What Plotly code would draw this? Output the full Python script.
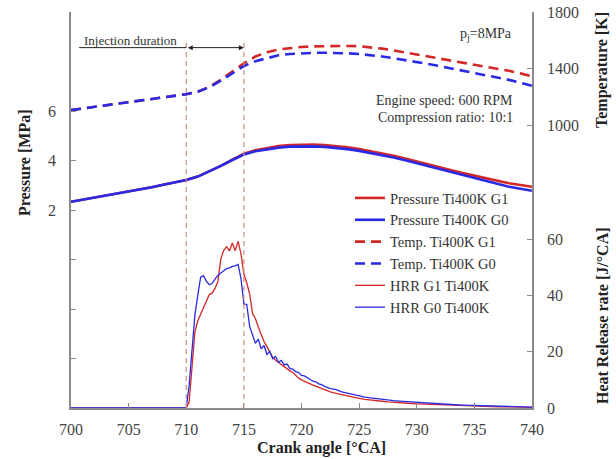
import plotly.graph_objects as go

# ---------------- data ----------------
ca = list(range(700, 741))
pressure_g1 = [2.33, 2.41, 2.49, 2.57, 2.66, 2.74, 2.83, 2.92, 3.02, 3.11, 3.21,
               3.35, 3.55, 3.78, 4.03, 4.27, 4.41, 4.51, 4.58, 4.62, 4.64,
               4.64, 4.62, 4.58, 4.53, 4.46, 4.38, 4.29, 4.19, 4.08, 3.97,
               3.85, 3.73, 3.61, 3.49, 3.38, 3.27, 3.17, 3.08, 3.01, 2.94]
pressure_g0 = [2.33, 2.41, 2.49, 2.57, 2.66, 2.74, 2.83, 2.92, 3.02, 3.11, 3.21,
               3.35, 3.55, 3.78, 4.02, 4.24, 4.37, 4.46, 4.52, 4.56, 4.57,
               4.57, 4.55, 4.51, 4.46, 4.39, 4.31, 4.22, 4.12, 4.01, 3.89,
               3.77, 3.64, 3.51, 3.39, 3.27, 3.15, 3.04, 2.94, 2.86, 2.78]
temp_g1 = [1106, 1117, 1128, 1139, 1150, 1161, 1172, 1184, 1195, 1207, 1219,
           1236, 1271, 1321, 1378, 1437, 1485, 1516, 1535, 1546, 1553,
           1557, 1559, 1560, 1560, 1558, 1551, 1541, 1528, 1514, 1500,
           1486, 1472, 1458, 1444, 1430, 1415, 1400, 1384, 1366, 1344]
temp_g0 = [1106, 1117, 1128, 1139, 1150, 1161, 1172, 1184, 1195, 1207, 1219,
           1236, 1268, 1314, 1366, 1418, 1452, 1475, 1494, 1503, 1508,
           1511, 1512, 1511, 1508, 1503, 1495, 1485, 1473, 1461, 1448,
           1432, 1417, 1401, 1386, 1370, 1354, 1338, 1320, 1300, 1278]

hrr_ca = [700, 709.75,
          710.0, 710.25, 710.5, 710.75, 711.0, 711.25, 711.5, 711.75,
          712.0, 712.25, 712.5, 712.75, 713.0, 713.25, 713.5, 713.75,
          714.0, 714.25, 714.5, 714.75, 715.0, 715.25, 715.5, 715.75,
          716.0, 716.25, 716.5, 716.75, 717.0, 717.25, 717.5, 717.75,
          718.0, 718.25, 718.5, 718.75, 719.0, 719.25, 719.5, 719.75,
          720.0, 720.25, 720.5, 720.75, 721.0, 721.25, 721.5, 721.75, 722.0,
          722.5, 723.0, 723.5, 724.0, 724.5, 725.0, 725.5, 726.0, 726.5,
          727.0, 727.5, 728.0, 728.5, 729.0, 729.5, 730.0, 731.0, 732.0,
          733.0, 734.0, 735.0, 736.0, 737.0, 738.0, 739.0, 740.0]
hrr_g1 = [0, 0,
          0, 2, 15, 27, 31, 33.5, 35.4, 38.5,
          40.3, 40.8, 42.5, 45, 53, 56, 57.3, 55.8,
          58.6, 55.9, 59.2, 54.8, 47.5, 44.5, 40.5, 33.6,
          31.8, 28.8, 26.0, 23.6, 21.8, 19.8, 18.0, 17.0,
          16.2, 15.3, 14.6, 13.9, 13.2, 12.6, 11.6, 10.6,
          10.0, 9.6, 9.1, 8.6, 8.1, 7.7, 7.3, 6.9, 6.5,
          5.7, 5.2, 4.7, 4.2, 3.8, 3.4, 3.1, 2.8, 2.6,
          2.4, 2.2, 2.0, 1.85, 1.7, 1.6, 1.5, 1.3, 1.1,
          0.95, 0.8, 0.65, 0.55, 0.45, 0.35, 0.3, 0.25]
hrr_g0 = [0, 0,
          0, 8, 22, 33, 40, 46.5, 47, 45,
          43.8, 44.3, 45.8, 47.2, 48, 48.8, 49.5, 49.8,
          50.3, 50.5, 51, 46, 37, 36.8, 29, 26,
          23, 24.5, 21, 22.2, 19, 20.1, 17.5, 18.3,
          16.2, 16.9, 15.3, 15.6, 14, 13.8, 12.9, 12.6,
          11.6, 11.4, 10.8, 10.3, 9.5, 9.3, 8.6, 8.3, 7.7,
          6.9, 6.5, 5.7, 5.2, 4.7, 4.3, 3.9, 3.6, 3.3,
          3.1, 2.8, 2.6, 2.45, 2.3, 2.15, 2.0, 1.7, 1.45,
          1.25, 1.05, 0.9, 0.75, 0.6, 0.5, 0.4, 0.3]

injection_start = 710
injection_end = 715

x_ticks = [700, 705, 710, 715, 720, 725, 730, 735, 740]
p_ticks = [2, 4, 6]
p_minor_ticks = [-4, -2, 0, 10]
t_ticks = [1000, 1400, 1800]
h_ticks = [0, 20, 40, 60]

# ---------------- styling ----------------
RED = "#D42828"
BLUE = "#2A2AE6"
FONT = "Liberation Serif"
AX = "#8a8a8a"
TXT = "#333333"

L, R, T, B = 71, 84, 12, 51
W, H = 616, 459
PW, PH = W - L - R, H - T - B


def px(x):
    return (x - L) / PW


def py(y):
    return (H - B - y) / PH


fig = go.Figure()

fig.add_trace(go.Scatter(x=hrr_ca, y=hrr_g1, mode="lines", name="HRR G1 Ti400K",
                         line=dict(color=RED, width=1.3), yaxis="y3", legendrank=5))
fig.add_trace(go.Scatter(x=hrr_ca, y=hrr_g0, mode="lines", name="HRR G0 Ti400K",
                         line=dict(color=BLUE, width=1.3), yaxis="y3", legendrank=6))
fig.add_trace(go.Scatter(x=ca, y=temp_g1, mode="lines", name="Temp. Ti400K G1",
                         line=dict(color=RED, width=2.6, dash="10px,6px"),
                         yaxis="y2", legendrank=3))
fig.add_trace(go.Scatter(x=ca, y=temp_g0, mode="lines", name="Temp. Ti400K G0",
                         line=dict(color=BLUE, width=2.6, dash="10px,6px"),
                         yaxis="y2", legendrank=4))
fig.add_trace(go.Scatter(x=ca, y=pressure_g1, mode="lines", name="Pressure Ti400K G1",
                         line=dict(color=RED, width=2.6), yaxis="y", legendrank=1))
fig.add_trace(go.Scatter(x=ca, y=pressure_g0, mode="lines", name="Pressure Ti400K G0",
                         line=dict(color=BLUE, width=2.6), yaxis="y", legendrank=2))

tickfont = dict(family=FONT, size=16, color="#444444")
common = dict(showgrid=False, zeroline=False, showline=True, linecolor=AX,
              linewidth=1.6, ticks="inside", ticklen=5, tickcolor=AX, tickwidth=1,
              tickfont=tickfont, automargin=False)

fig.update_layout(
    width=W, height=H,
    margin=dict(l=L, r=R, t=T, b=B, autoexpand=False),
    paper_bgcolor="white", plot_bgcolor="white",
    font=dict(family=FONT, color=TXT),
    xaxis=dict(range=[700, 740], tickvals=x_ticks, ticklabelstandoff=6, **common),
    yaxis=dict(range=[-6, 10], tickvals=p_ticks, ticklabelstandoff=10,
               minor=dict(tickvals=p_minor_ticks, ticks="inside", ticklen=5,
                          tickcolor=AX, tickwidth=1, showgrid=False),
               **common),
    yaxis2=dict(range=[-1000, 1800], tickvals=t_ticks, overlaying="y", side="right",
                anchor="x", ticklabelstandoff=10, **common),
    yaxis3=dict(range=[0, 140.7], tickvals=h_ticks, overlaying="y", side="right",
                anchor="x", ticklabelstandoff=10, **common),
    legend=dict(x=px(350), y=py(182), xanchor="left", yanchor="top",
                bgcolor="rgba(0,0,0,0)", font=dict(family=FONT, size=14.5, color=TXT),
                itemwidth=30, tracegroupgap=0),
    showlegend=True,
)

# injection markers
for xv in (injection_start, injection_end):
    fig.add_shape(type="line", xref="x", yref="y", x0=xv, x1=xv, y0=-6, y1=8.9,
                  line=dict(color="#C89080", width=1.2, dash="5px,4px"))
arrow_y = 8.56
fig.add_shape(type="line", xref="x", yref="y", x0=700.7, x1=injection_start,
              y0=arrow_y, y1=arrow_y, line=dict(color="#222222", width=1))
fig.add_annotation(x=injection_end, y=arrow_y, ax=injection_start, ay=arrow_y,
                   xref="x", yref="y", axref="x", ayref="y", text="",
                   showarrow=True, arrowside="end+start", arrowhead=2,
                   arrowsize=1, arrowwidth=1, arrowcolor="#222222")


def note(text, x, y, size=14, xanchor="left"):
    fig.add_annotation(text=text, x=px(x), y=py(y), xref="paper", yref="paper",
                       xanchor=xanchor, yanchor="middle", showarrow=False,
                       font=dict(family=FONT, size=size, color=TXT))


note("Injection duration", 82, 40, size=13)
note("p<sub>j</sub>=8MPa", 514, 34, xanchor="right")
note("Engine speed: 600 RPM", 515, 100, xanchor="right")
note("Compression ratio: 10:1", 515, 118, xanchor="right")


def title(text, x, y, angle):
    fig.add_annotation(text=f"<b>{text}</b>", x=px(x), y=py(y), xref="paper",
                       yref="paper", xanchor="center", yanchor="middle",
                       showarrow=False, textangle=angle,
                       font=dict(family=FONT, size=16, color="#222222"))


title("Pressure [MPa]", 25, 163, -90)
title("Temperature [K]", 602, 70, -90)
title("Heat Release rate [J/°CA]", 602, 316, -90)
title("Crank angle [°CA]", 321, 448, 0)

fig.write_html("out.html")
